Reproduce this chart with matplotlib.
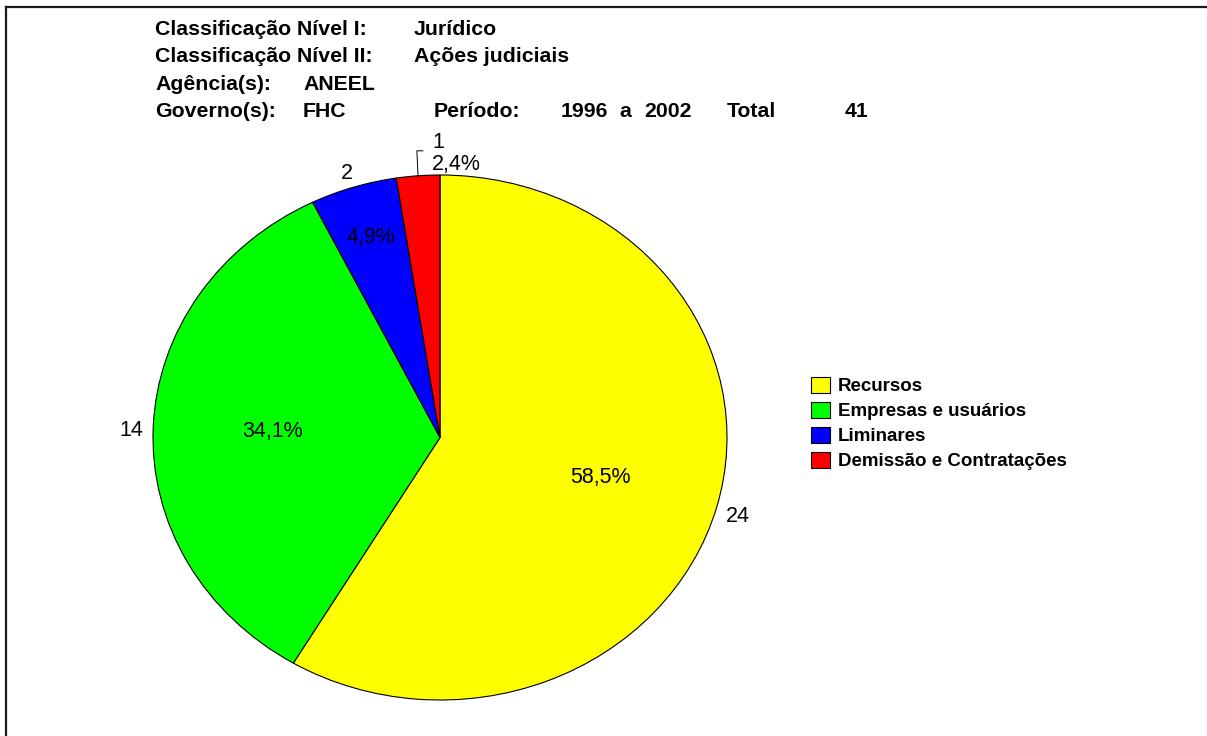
import numpy as np
import matplotlib
matplotlib.use("Agg")
import matplotlib.pyplot as plt
from matplotlib.lines import Line2D

plt.rcParams['font.family'] = ['Liberation Sans', 'DejaVu Sans']

# --- data -------------------------------------------------------------
categories = ["Recursos", "Empresas e usuários", "Liminares", "Demissão e Contratações"]
counts = [24, 14, 2, 1]
colors = ["#ffff00", "#00ff00", "#0000ff", "#ff0000"]

nivel_1 = "Jurídico"
nivel_2 = "Ações judiciais"
agencias = "ANEEL"
governos = "FHC"
periodo_inicio = 1996
periodo_fim = 2002

total = sum(counts)

# --- figure -----------------------------------------------------------
W, H = 1207, 736
fig = plt.figure(figsize=(W / 100, H / 100), dpi=100)


def fx(px):
    return px / W


def fy(py):
    return 1 - py / H


# outer frame (top and left edges)
fig.add_artist(Line2D([fx(6), fx(6)], [fy(7), 0], transform=fig.transFigure,
                      color="#1a1a1a", lw=1.6))
fig.add_artist(Line2D([fx(6), 1], [fy(7), fy(7)], transform=fig.transFigure,
                      color="#1a1a1a", lw=1.6))

# header block
hdr = dict(fontsize=15.3, fontweight="bold", color="black", va="baseline", ha="left")
fig.text(fx(155), fy(35), "Classificação Nível I:", **hdr)
fig.text(fx(414), fy(35), nivel_1, **hdr)
fig.text(fx(155), fy(62), "Classificação Nível II:", **hdr)
fig.text(fx(414), fy(62), nivel_2, **hdr)
fig.text(fx(155), fy(90), "Agência(s):", **hdr)
fig.text(fx(303), fy(90), agencias, **hdr)
fig.text(fx(155), fy(117), "Governo(s):", **hdr)
fig.text(fx(303), fy(117), governos, **hdr)
fig.text(fx(434), fy(117), "Período:", **hdr)
fig.text(fx(561), fy(117), str(periodo_inicio), **hdr)
fig.text(fx(619), fy(117), "a", **hdr)
fig.text(fx(644), fy(117), str(periodo_fim), **hdr)
fig.text(fx(727), fy(117), "Total", **hdr)
fig.text(fx(845), fy(117), str(total), **hdr)

# pie (slightly elliptical: axes box is wider than tall)
cx, cy, rx, ry = 440, 437.5, 287, 262.5
ax = fig.add_axes([fx(cx - rx), fy(cy + ry), 2 * rx / W, 2 * ry / H])
wedges, _ = ax.pie(counts, colors=colors, startangle=90, counterclock=False,
                   radius=1.0, wedgeprops=dict(edgecolor="black", linewidth=0.8))
ax.set_aspect("auto")
ax.set_xlim(-1, 1)
ax.set_ylim(-1, 1)
ax.axis("off")

pct_r = [0.58, 0.585, 0.80, None]
lab_r = [1.078, 1.077, 1.07, None]
txt = dict(fontsize=15.5, color="black", ha="center", va="center")
for i, w in enumerate(wedges):
    mid = np.deg2rad((w.theta1 + w.theta2) / 2)
    share = 100 * counts[i] / total
    pct = f"{share:.1f}%".replace(".", ",")
    if pct_r[i] is not None:
        ax.text(pct_r[i] * np.cos(mid), pct_r[i] * np.sin(mid), pct, **txt)
        ax.text(lab_r[i] * np.cos(mid), lab_r[i] * np.sin(mid) - 0.015,
                str(counts[i]), **txt)
    else:
        # small slice: labels above the pie with a leader line
        ex, ey = np.cos(mid), np.sin(mid)
        ax.plot([ex, ex - 0.004, ex + 0.017], [ey, ey + 0.095, ey + 0.095],
                color="black", lw=0.7, clip_on=False)
        ax.text(ex + 0.07, ey + 0.125, str(counts[i]), clip_on=False, **txt)
        ax.text(ex + 0.133, ey + 0.042, pct, clip_on=False, **txt)

# legend
fig.legend(wedges, categories, loc="upper left",
           bbox_to_anchor=(fx(811), fy(377)), frameon=False,
           prop=dict(size=13.5, weight="bold"),
           handlelength=1.01, handleheight=0.9, handletextpad=0.42,
           labelspacing=0.36, borderpad=0, borderaxespad=0)

fig.savefig("out.png", dpi=100, facecolor="white")
